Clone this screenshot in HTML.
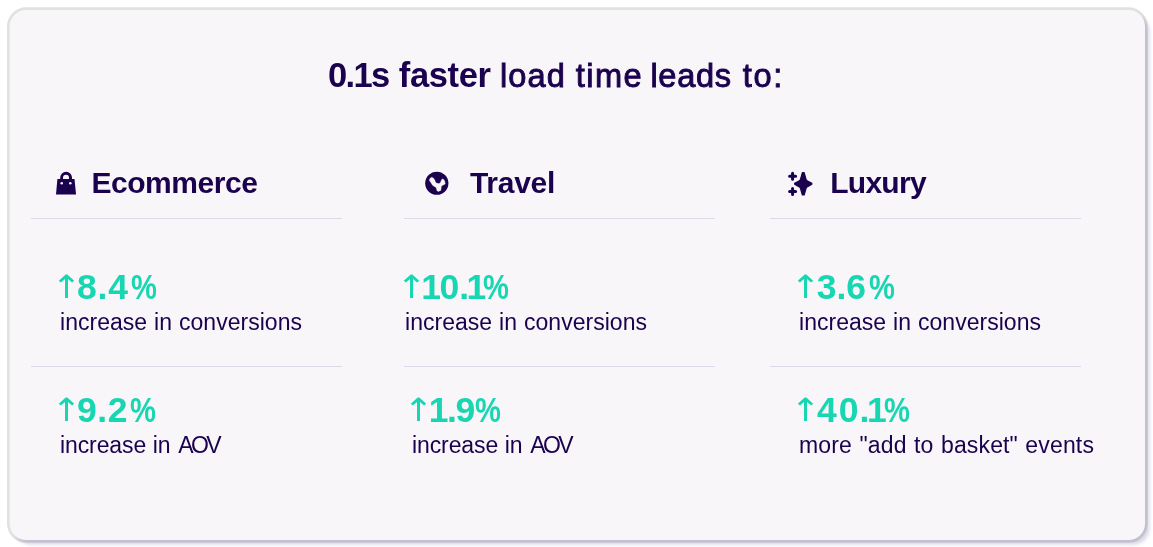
<!DOCTYPE html>
<html lang="en">
<head>
<meta charset="utf-8">
<title>0.1s faster load time leads to</title>
<style>
  html, body { margin: 0; padding: 0; background: #ffffff; }
  body { width: 1153px; height: 547px; position: relative; overflow: hidden;
         font-family: "Liberation Sans", sans-serif; color: #1b024e; }
  svg.cardbg { position: absolute; left: 0; top: 0; }
  .t { position: absolute; white-space: nowrap; line-height: 1; margin: 0; }
  h1.t { font-size: 33.5px; font-weight: 400; left: 328px; top: 58px; }
  h1 b { font-weight: 700; font-size: 34.5px; }
  h1 .m { -webkit-text-stroke: 0.9px #1b024e; font-size: 32.6px; }
  h1 span, h1 b { display: inline-block; }
  h2.t { font-size: 30px; font-weight: 700; }
  .num { font-size: 35.5px; font-weight: 700; color: #17d6b2; }
  .num .ar { font-family: "DejaVu Sans", sans-serif; font-style: normal; font-weight: 400; font-size: 32px; letter-spacing: 0; display: inline-block; transform: scaleX(1.12); position: relative; top: -0.6px; margin: 0 -3px 0 -5.8px; }
  .num .pc { display: inline-block; transform: scaleX(0.82); transform-origin: 0 50%; }
  .lab { font-size: 23px; font-weight: 400; }
  .hr { position: absolute; height: 1px; width: 311px; background: #dcd9e8; }
  svg.ic { position: absolute; overflow: visible; }
</style>
</head>
<body>
<svg class="cardbg" width="1153" height="547" viewBox="0 0 1153 547">
  <defs><filter id="sb" x="-2%" y="-5%" width="104%" height="110%"><feGaussianBlur stdDeviation="1.7"/></filter></defs>
  <rect x="14.4" y="14.8" width="1135.33" height="530" rx="16.5" fill="rgb(72,60,140)" fill-opacity="0.185" filter="url(#sb)"/>
  <rect x="9.67" y="10" width="1135.33" height="530" rx="16.5" fill="#f8f6f9"/>
  <rect x="8.333" y="8.666" width="1138.03" height="532.73" rx="17.8" fill="none" stroke="#000" stroke-opacity="0.118" stroke-width="2.667"/>
</svg>

<h1 class="t"><b style="letter-spacing:-1.67px">0.1s</b> <b style="letter-spacing:-0.34px;margin-left:1px">faster</b> <span class="m" style="letter-spacing:1.1px;margin-left:0px">load</span> <span class="m" style="letter-spacing:1.5px;margin-left:0.3px">time</span> <span class="m" style="letter-spacing:0.7px;margin-left:-2.1px">leads</span> <span class="m" style="letter-spacing:1.7px;margin-left:1.55px">to:</span></h1>

<!-- column 1 -->
<svg class="ic" style="left:49px;top:166px" width="34" height="34" viewBox="0 0 34 34">
  <path fill="#1b024e" fill-rule="evenodd" d="M11.2 13.05 V11.6 a5.9 5.9 0 0 1 11.8 0 V13.05 H25.5 L27.05 28.6 H7 L8.4 13.05 Z M14 13.05 H20 V11.7 a3 3 0 0 0 -6 0 Z"/>
  <circle cx="12.75" cy="17.3" r="1.25" fill="#f8f6f9"/><circle cx="21.3" cy="17.3" r="1.25" fill="#f8f6f9"/>
</svg>
<h2 class="t" style="left:91.4px;top:168px;letter-spacing:-0.45px">Ecommerce</h2>
<div class="hr" style="left:31px;top:218px"></div>
<div class="t num" style="left:59px;top:270px;letter-spacing:0.8px"><span class="ar">↑</span>8.4<span class="pc" style="margin-left:2.7px">%</span></div>
<div class="t lab" style="letter-spacing:0.03px;word-spacing:0.5px;left:60px;top:310.5px">increase in conversions</div>
<div class="hr" style="left:31px;top:366px"></div>
<div class="t num" style="left:59px;top:393px;letter-spacing:0.6px"><span class="ar">↑</span>9.2<span class="pc" style="margin-left:1.8px">%</span></div>
<div class="t lab" style="letter-spacing:-0.1px;word-spacing:0.3px;left:60px;top:433.5px">increase in <span style="letter-spacing:-2.6px;margin-left:1.2px">AOV</span></div>

<!-- column 2 -->
<svg class="ic" style="left:420px;top:166px" width="34" height="34" viewBox="0 0 34 34">
  <circle cx="16.8" cy="17.25" r="11.6" fill="#1b024e"/>
  <path fill="#f8f6f9" stroke="#f8f6f9" stroke-width="0.4" stroke-linejoin="round" d="M9.3 14.2 L10 12.4 L11.6 11.3 L13.3 12 L14.9 14.3 C15.2 18.4 20.6 18.4 20.8 15.5 L22.1 12.9 L23.8 13.5 L24.8 15.5 L25.2 18 L21.4 19.9 L20.8 24.4 L18 25.6 L16.9 24.4 L16.3 21.75 L12.5 19.2 L11 16.8 Z"/>
</svg>
<h2 class="t" style="left:470px;top:168px;letter-spacing:-0.3px">Travel</h2>
<div class="hr" style="left:404px;top:218px"></div>
<div class="t num" style="left:404px;top:270px;letter-spacing:-2.5px"><span class="ar" style="margin-right:-3.8px">↑</span><span style="letter-spacing:-1.5px">1</span><span style="letter-spacing:0">0</span>.<span style="letter-spacing:-3.5px">1</span><span class="pc">%</span></div>
<div class="t lab" style="letter-spacing:0.03px;word-spacing:0.5px;left:405px;top:310.5px">increase in conversions</div>
<div class="hr" style="left:404px;top:366px"></div>
<div class="t num" style="left:410.8px;top:393px;letter-spacing:-1.5px"><span class="ar">↑</span>1.<span style="letter-spacing:0">9</span><span class="pc">%</span></div>
<div class="t lab" style="letter-spacing:-0.1px;word-spacing:0.3px;left:412px;top:433.5px">increase in <span style="letter-spacing:-2.6px;margin-left:1.2px">AOV</span></div>

<!-- column 3 -->
<svg class="ic" style="left:782px;top:166px" width="34" height="34" viewBox="0 0 34 34">
  <path fill="#1b024e" stroke="#1b024e" stroke-width="1.2" stroke-linejoin="round" d="M22.16 6.62 L24.06 13.32 Q24.46 14.82 26.56 15.52 L29.86 17.32 L29.86 18.32 L26.56 20.12 Q24.46 20.82 24.06 22.32 L22.16 29.02 L20.36 29.02 L18.46 22.32 Q18.06 20.82 15.96 20.12 L12.66 18.32 L12.66 17.32 L15.96 15.52 Q18.06 14.82 18.46 13.32 L20.36 6.62 Z"/>
  <path fill="none" stroke="#1b024e" stroke-width="3" stroke-linecap="round" d="M7.6 10.25 H13.6 M10.57 7.3 V13.2 M7.6 25.48 H13.6 M10.57 22.5 V28.5"/>
</svg>
<h2 class="t" style="left:830.2px;top:168px;letter-spacing:-0.72px">Luxury</h2>
<div class="hr" style="left:770px;top:218px"></div>
<div class="t num" style="left:797.5px;top:270px;letter-spacing:0px"><span class="ar" style="margin-right:-1.8px">↑</span>3.6<span class="pc" style="margin-left:2.8px">%</span></div>
<div class="t lab" style="letter-spacing:0.03px;word-spacing:0.5px;left:799px;top:310.5px">increase in conversions</div>
<div class="hr" style="left:770px;top:366px"></div>
<div class="t num" style="left:797.5px;top:393px;letter-spacing:-2.3px"><span class="ar" style="margin-right:-1.5px">↑</span><span style="letter-spacing:2px">4</span><span style="letter-spacing:1px">0</span>.<span style="letter-spacing:-3px">1</span><span class="pc">%</span></div>
<div class="t lab" style="letter-spacing:0.15px;word-spacing:0.9px;left:799px;top:433.5px">more "add to basket" events</div>
</body>
</html>
